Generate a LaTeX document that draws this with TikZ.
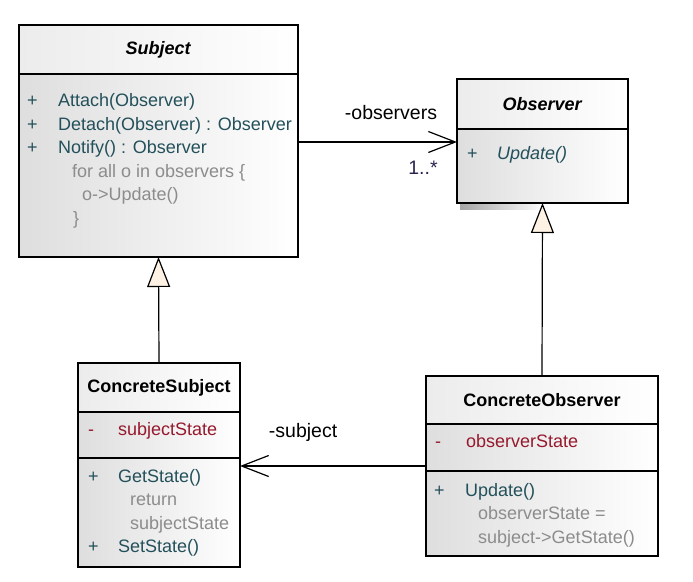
\documentclass[tikz,border=0pt]{standalone}
\usepackage{fontspec}
\setmainfont{Liberation Sans}
\usetikzlibrary{arrows.meta, positioning}
\definecolor{opteal}{RGB}{35,80,90}
\definecolor{attrred}{RGB}{150,25,45}
\definecolor{notegray}{RGB}{140,140,140}
\definecolor{boxgray}{RGB}{222,222,222}
\definecolor{headgray}{RGB}{236,236,236}
\definecolor{gencream}{RGB}{253,242,228}
\definecolor{multnavy}{RGB}{45,35,80}

\begin{document}
\begin{tikzpicture}[x=1pt, y=-1pt, font=\fontsize{18}{23.5}\selectfont]

        % Setup the styles for the classes and links
        \tikzset{class head/.style={draw, line width=1.2pt, inner sep=0pt, outer sep=0pt,
                                    anchor=north west,
                                    left color=headgray, middle color=white, right color=white},
                 class part/.style={draw, line width=1.2pt, inner sep=0pt, outer sep=0pt,
                                    left color=boxgray, middle color=white, right color=white},
                 members/.style={anchor=north west, inner sep=0pt, align=left, text=opteal},
                 link label/.style={inner sep=0pt, font=\fontsize{19.5}{22}\selectfont},
                 assoc/.style={line width=1.2pt,
                               -{Straight Barb[length=27pt, width=21pt, line width=1.2pt]}},
                 inherit/.style={line width=1.2pt,
                                 -{Triangle[length=30pt, width=23pt, line width=1.2pt, fill=gencream]}}}

        \useasboundingbox (0,0) rectangle (693,581);

        % Shadow under the interface
        \shade[left color=black!35, right color=white] (460,203) rectangle (545,209);

        % Draw the classes
        \node[class head, minimum width=279pt, minimum height=49pt] at (19,25) (subjhead)
            {\textbf{\textit{Subject}}};
        \node[class part, minimum width=279pt, minimum height=183pt, below=0pt of subjhead] (subjops) {};

        \node[class head, minimum width=171pt, minimum height=50pt] at (457,79) (obshead)
            {\textbf{\textit{Observer}}};
        \node[class part, minimum width=171pt, minimum height=74pt, below=0pt of obshead] (obsops) {};

        \node[class head, minimum width=162pt, minimum height=49pt] at (78,363) (csubjhead)
            {\textbf{ConcreteSubject}};
        \node[class part, minimum width=162pt, minimum height=46pt, below=0pt of csubjhead] (csubjattr) {};
        \node[class part, minimum width=162pt, minimum height=109pt, below=0pt of csubjattr] (csubjops) {};

        \node[class head, minimum width=232pt, minimum height=48pt] at (426,376) (cobshead)
            {\textbf{ConcreteObserver}};
        \node[class part, minimum width=232pt, minimum height=47pt, below=0pt of cobshead] (cobsattr) {};
        \node[class part, minimum width=232pt, minimum height=85pt, below=0pt of cobsattr] (cobsops) {};

        % Members of each class
        \node[members] at (27,90) (subjtext)
            {\strut\makebox[31pt][l]{+}Attach(Observer)\\
             \makebox[31pt][l]{+}Detach(Observer) : Observer\\
             \makebox[31pt][l]{+}Notify() : Observer\\
             \hspace*{45pt}\textcolor{notegray}{for all o in observers \{}\\
             \hspace*{55pt}\textcolor{notegray}{o->Update()}\\
             \hspace*{46pt}\textcolor{notegray}{\}}};
        \node[members] at (467,143) (obstext)
            {\strut\makebox[30pt][l]{+}\textit{Update()}};
        \node[members, text=attrred] at (88,418.5) (csubjattrtext)
            {\strut\makebox[30pt][l]{-}subjectState};
        \node[members] at (88,465.5) (csubjtext)
            {\strut\makebox[30pt][l]{+}GetState()\\
             \hspace*{42pt}\textcolor{notegray}{return}\\
             \hspace*{42pt}\textcolor{notegray}{subjectState}\\
             \makebox[30pt][l]{+}SetState()};
        \node[members, text=attrred] at (435,430.5) (cobsattrtext)
            {\strut\makebox[31pt][l]{-}observerState};
        \node[members] at (434,479.5) (cobstext)
            {\strut\makebox[31pt][l]{+}Update()\\
             \hspace*{44pt}\textcolor{notegray}{observerState =}\\
             \hspace*{44pt}\textcolor{notegray}{subject->GetState()}};

        % Connect the classes
        \coordinate (obslink) at ([yshift=-13pt]obsops.north west);
        \coordinate (subjlink) at ([yshift=5pt]cobsops.north west);

        \draw[assoc] (obslink -| subjops.east) --
            node[link label, pos=0.585, above=22pt] (obsrole) {-observers}
            node[link label, pos=0.786, below=18pt, text=multnavy] (obsmult) {1..*} (obslink);
        \draw[assoc] (subjlink) --
            node[link label, pos=0.661, above=24pt] (subjrole) {-subject} (subjlink -| csubjops.east);

        \draw[inherit] (csubjhead.north) -- (subjops.south);
        \draw[inherit] (cobshead.north) -- (obsops.south);
    \end{tikzpicture}
\end{document}
